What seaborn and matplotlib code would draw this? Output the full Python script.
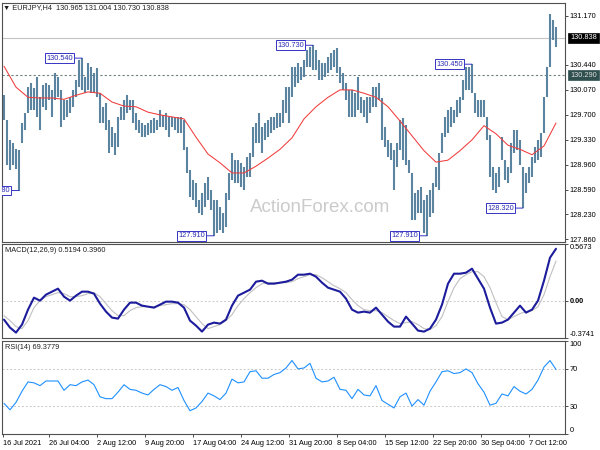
import numpy as np
import matplotlib
matplotlib.use("Agg")
import matplotlib.pyplot as plt
import matplotlib.transforms as mtransforms
import seaborn as sns

# EURJPY H4 bars (every second bar), high / low
bar_high = [129.99, 129.62, 129.33, 129.28, 129.20, 129.18, 129.58, 129.73, 130.11, 130.17,
            130.10, 130.26, 129.96, 130.14, 130.17, 130.14, 130.07, 130.32, 130.26, 130.07,
            129.92, 129.92, 129.96, 130.07, 130.22, 130.51, 130.54, 130.26, 130.47, 130.41,
            130.32, 130.39, 130.02, 129.82, 129.88, 129.62, 129.52, 129.43, 129.67, 129.82,
            129.92, 129.99, 129.92, 129.92, 129.73, 129.62, 129.58, 129.55, 129.58, 129.62,
            129.65, 129.62, 129.77, 129.70, 129.73, 129.67, 129.67, 129.67, 129.67, 129.67,
            129.62, 129.22, 128.88, 128.74, 128.69, 128.44, 128.54, 128.69, 128.78, 128.59,
            128.44, 128.44, 128.34, 128.25, 128.54, 128.84, 129.14, 129.03, 129.03, 128.99,
            128.93, 129.08, 129.14, 129.52, 129.58, 129.73, 129.52, 129.58, 129.62, 129.67,
            129.67, 129.73, 129.73, 129.92, 130.11, 130.11, 130.41, 130.41, 130.47, 130.41,
            130.51, 130.66, 130.70, 130.73, 130.66, 130.51, 130.47, 130.47, 130.56, 130.62,
            130.66, 130.69, 130.41, 130.32, 130.17, 130.07, 130.07, 130.02, 130.26, 129.96,
            129.92, 129.96, 129.96, 130.11, 130.11, 130.17, 129.95, 129.52, 129.33, 129.28,
            129.18, 129.28, 129.62, 129.65, 129.55, 129.03, 128.84, 128.54, 128.59, 128.63,
            128.44, 128.51, 128.59, 128.69, 128.93, 129.14, 129.43, 129.67, 129.77, 129.82,
            129.77, 129.92, 129.96, 130.22, 130.41, 130.41, 130.45, 130.02, 129.92, 129.92,
            129.92, 129.67, 129.40, 128.93, 128.84, 128.93, 129.37, 129.03, 128.93, 129.28,
            129.48, 129.48, 129.33, 128.93, 128.84, 128.93, 129.08, 129.22, 129.33, 129.43,
            129.96, 130.41, 131.19, 131.10, 131.00]
bar_low = [129.62, 128.96, 128.88, 128.96, 128.90, 128.58, 129.28, 129.48, 129.73, 129.77,
           129.77, 129.67, 129.48, 129.82, 129.77, 129.92, 129.67, 129.92, 129.96, 129.52,
           129.62, 129.67, 129.73, 129.82, 129.96, 130.11, 130.07, 130.02, 130.07, 130.02,
           130.02, 129.96, 129.58, 129.58, 129.48, 129.14, 129.22, 129.11, 129.22, 129.62,
           129.62, 129.73, 129.77, 129.58, 129.48, 129.43, 129.37, 129.37, 129.40, 129.43,
           129.43, 129.48, 129.52, 129.52, 129.48, 129.37, 129.52, 129.48, 129.43, 129.43,
           129.18, 128.84, 128.48, 128.44, 128.34, 128.25, 128.22, 128.34, 128.44, 128.29,
           127.91, 127.95, 127.99, 127.95, 128.04, 128.44, 128.74, 128.69, 128.69, 128.63,
           128.59, 128.78, 128.78, 129.08, 129.28, 129.28, 129.14, 129.33, 129.37, 129.43,
           129.48, 129.51, 129.52, 129.58, 129.73, 129.58, 129.96, 130.11, 130.17, 130.22,
           130.26, 130.41, 130.41, 130.36, 130.36, 130.22, 130.22, 130.26, 130.32, 130.36,
           130.41, 130.32, 130.17, 130.07, 129.92, 129.67, 129.67, 129.67, 129.77, 129.73,
           129.67, 129.58, 129.73, 129.82, 129.82, 129.92, 129.33, 129.22, 129.08, 129.03,
           128.59, 128.93, 129.18, 129.03, 128.96, 128.84, 128.14, 128.14, 128.25, 128.25,
           127.95, 127.91, 128.19, 128.25, 128.63, 128.59, 129.14, 129.37, 129.43, 129.52,
           129.58, 129.67, 129.73, 129.92, 130.07, 130.07, 130.02, 129.73, 129.67, 129.67,
           129.67, 129.33, 128.78, 128.59, 128.54, 128.63, 129.03, 128.74, 128.69, 128.84,
           129.14, 129.18, 128.96, 128.32, 128.54, 128.69, 128.78, 128.99, 129.03, 129.08,
           129.43, 129.96, 130.41, 130.81, 130.70]

# moving average, read every fourth plotted bar
ma_values = [130.42, 130.11, 129.96, 129.95, 129.95, 129.93, 129.99, 130.04, 130.02, 129.89,
             129.83, 129.82, 129.74, 129.70, 129.67, 129.64, 129.37, 129.12, 128.99, 128.84,
             128.84, 128.94, 129.06, 129.19, 129.36, 129.64, 129.82, 129.96, 130.07, 130.07,
             130.02, 129.96, 129.82, 129.61, 129.39, 129.17, 129.00, 129.03, 129.17, 129.33,
             129.54, 129.42, 129.25, 129.19, 129.11, 129.24, 129.58]

# MACD(12,26,9) main and signal, RSI(14); read every second plotted bar
macd_main = [-0.19, -0.27, -0.32, -0.24, -0.09, 0.03, 0.00, 0.06, 0.09, 0.12,
             0.04, 0.00, 0.05, 0.09, 0.09, 0.07, -0.03, -0.11, -0.17, -0.18,
             -0.09, -0.02, -0.02, -0.05, -0.06, -0.07, -0.04, -0.01, -0.01, -0.02,
             -0.07, -0.20, -0.25, -0.31, -0.24, -0.22, -0.23, -0.19, -0.05, 0.05,
             0.08, 0.11, 0.19, 0.20, 0.17, 0.17, 0.18, 0.19, 0.21, 0.26,
             0.26, 0.27, 0.24, 0.18, 0.13, 0.11, 0.09, 0.02, -0.09, -0.12,
             -0.11, -0.12, -0.07, -0.14, -0.21, -0.26, -0.26, -0.16, -0.23, -0.30,
             -0.31, -0.28, -0.19, -0.04, 0.17, 0.27, 0.27, 0.28, 0.32, 0.22,
             0.12, -0.07, -0.23, -0.22, -0.19, -0.12, -0.05, -0.12, -0.09, 0.00,
             0.20, 0.43, 0.5194]
macd_signal = [-0.15, -0.20, -0.26, -0.28, -0.20, -0.07, 0.00, 0.04, 0.06, 0.08,
               0.07, 0.04, 0.04, 0.05, 0.07, 0.08, 0.04, -0.03, -0.10, -0.15,
               -0.15, -0.10, -0.07, -0.06, -0.06, -0.06, -0.05, -0.04, -0.03, -0.03,
               -0.04, -0.09, -0.16, -0.23, -0.28, -0.26, -0.24, -0.20, -0.14, -0.05,
               0.02, 0.08, 0.13, 0.17, 0.18, 0.18, 0.18, 0.18, 0.19, 0.22,
               0.24, 0.26, 0.26, 0.23, 0.19, 0.15, 0.12, 0.08, 0.01, -0.05,
               -0.09, -0.10, -0.10, -0.12, -0.16, -0.20, -0.23, -0.22, -0.21, -0.24,
               -0.28, -0.29, -0.25, -0.16, -0.01, 0.13, 0.22, 0.26, 0.29, 0.29,
               0.24, 0.13, -0.02, -0.16, -0.19, -0.16, -0.13, -0.11, -0.10, -0.06,
               0.06, 0.24, 0.3960]
rsi_values = [33, 26, 34, 46, 56, 55, 52, 57, 57, 57,
              47, 53, 52, 56, 58, 53, 40, 38, 38, 45,
              53, 48, 47, 44, 42, 48, 53, 51, 47, 50,
              36, 25, 28, 35, 44, 41, 37, 44, 59, 55,
              56, 67, 68, 60, 60, 64, 66, 71, 79, 70,
              71, 76, 60, 56, 57, 61, 48, 47, 38, 48,
              42, 41, 52, 36, 32, 28, 40, 44, 30, 37,
              31, 46, 56, 67, 68, 65, 66, 70, 66, 54,
              45, 31, 33, 43, 41, 51, 46, 43, 48, 58,
              72, 79, 69.38]

# swing high / low labels
swing_bars = [5, 26, 70, 103, 141, 156, 173]
swing_prices = [128.58, 130.54, 127.91, 130.73, 127.91, 130.45, 128.32]

price_ticks = [131.17, 130.44, 130.07, 129.70, 129.33, 128.96, 128.59, 128.23, 127.86]
last_price = 130.838
level_price = 130.29
macd_ticks = [0.5673, 0.0, -0.3741]
rsi_ticks = [100, 70, 30, 0]
time_ticks = [-0.5, 15, 31, 47, 63, 79, 95, 111, 127, 143, 159, 175]
time_labels = ["16 Jul 2021", "26 Jul 04:00", "2 Aug 12:00", "9 Aug 20:00", "17 Aug 04:00",
               "24 Aug 12:00", "31 Aug 20:00", "8 Sep 04:00", "15 Sep 12:00", "22 Sep 20:00",
               "30 Sep 04:00", "7 Oct 12:00"]

sns.set_theme(style="white")
plt.rcParams['font.family'] = ['Liberation Sans', 'DejaVu Sans']
FS = 5.3

bars = np.arange(len(bar_high))
ind_bars = bars[::2]

fig = plt.figure(figsize=(6, 4.5), dpi=100)
fig.patch.set_facecolor('white')
W, H = 600.0, 450.0
ax_p = fig.add_axes([2 / W, 1 - 242 / H, 563 / W, 239 / H])
ax_m = fig.add_axes([2 / W, 1 - 338 / H, 563 / W, 94 / H])
ax_r = fig.add_axes([2 / W, 1 - 434 / H, 563 / W, 93 / H])

for ax in (ax_p, ax_m, ax_r):
    ax.set_xlim(-0.667, 187)
    ax.set_facecolor('white')
    for sp in ax.spines.values():
        sp.set_visible(True)
        sp.set_color('#505050')
        sp.set_linewidth(0.8)
    ax.yaxis.tick_right()
    ax.tick_params(axis='y', right=True, left=False, labelright=True, labelleft=False,
                   direction='out', length=2.5, width=0.6, pad=1, labelsize=FS,
                   colors='#303030', labelcolor='black')
    ax.grid(False)

# price panel
ax_p.axhline(last_price, color='#c4c4c4', lw=0.8, zorder=0)
ax_p.axhline(level_price, color='#6f8080', lw=0.8, ls=(0, (2, 2)), zorder=0)
ax_p.text(0.565, 0.146, "ActionForex.com", transform=ax_p.transAxes, ha='center', va='center',
          fontsize=13.5, color='#cbcbcb', zorder=0)
ax_p.vlines(bars, bar_low, bar_high, color='#5a84a0', lw=1.5, zorder=2)
sns.lineplot(x=bars[::4], y=ma_values, ax=ax_p, color='#f03c3c', lw=0.75, zorder=3)
ax_p.set_ylim(127.818, 131.356)
ax_p.set_yticks(price_ticks)
ax_p.set_yticklabels([f"{p:.3f}" for p in price_ticks])
ax_p.set_xticks([])

yx = mtransforms.blended_transform_factory(ax_p.transAxes, ax_p.transData)
ax_p.text(1.009, last_price, f"{last_price:.3f}", transform=yx, ha='left', va='center',
          fontsize=FS, color='white',
          bbox=dict(boxstyle='square,pad=0.25', fc='black', ec='black', lw=0.5))
ax_p.text(1.009, level_price, f"{level_price:.3f}", transform=yx, ha='left', va='center',
          fontsize=FS, color='#dddddd',
          bbox=dict(boxstyle='square,pad=0.25', fc='#2f4f4f', ec='#2f4f4f', lw=0.5))

for b, p in zip(swing_bars, swing_prices):
    ann = ax_p.annotate(f"{p:.3f}", xy=(b, p), xytext=(-6.5, 0), textcoords='offset points',
                        ha='right', va='center', fontsize=FS, color='#2a2ab4',
                        bbox=dict(boxstyle='square,pad=0.2', fc='white', ec='#3434c4', lw=0.7),
                        arrowprops=dict(arrowstyle='-', color='#3434c4', lw=0.7,
                                        shrinkA=0, shrinkB=0),
                        annotation_clip=False, zorder=5)
    ann.set_clip_box(ax_p.bbox)
    ann.set_clip_on(True)

ax_p.text(0.002, 0.983, "\u25bc EURJPY,H4  130.965 131.004 130.730 130.838",
          transform=ax_p.transAxes, ha='left', va='center', fontsize=FS, color='#202020')

# MACD panel
ax_m.axhline(0, color='#c8c8c8', lw=0.7, ls=(0, (2, 2)), zorder=0)
sns.lineplot(x=ind_bars, y=macd_signal, ax=ax_m, color='#c0c0c0', lw=0.8)
sns.lineplot(x=ind_bars, y=macd_main, ax=ax_m, color='#1c1c9c', lw=1.5)
ax_m.set_ylim(macd_ticks[-1], macd_ticks[0])
ax_m.set_yticks(macd_ticks)
ax_m.set_yticklabels(["0.5673", "0.00", "-0.3741"])
labs = ax_m.get_yticklabels()
labs[0].set_va('top')
labs[1].set_fontweight('bold')
labs[2].set_va('bottom')
ax_m.set_xticks([])
ax_m.text(0.005, 0.935, "MACD(12,26,9) 0.5194 0.3960", transform=ax_m.transAxes,
          ha='left', va='center', fontsize=FS, color='#202020')

# RSI panel
for lvl in (70, 30):
    ax_r.axhline(lvl, color='#c8c8c8', lw=0.7, ls=(0, (2, 2)), zorder=0)
sns.lineplot(x=ind_bars, y=rsi_values, ax=ax_r, color='#1e90ff', lw=0.8)
ax_r.set_ylim(0, 100)
ax_r.set_yticks(rsi_ticks)
ax_r.set_yticklabels([str(v) for v in rsi_ticks])
labs = ax_r.get_yticklabels()
labs[0].set_va('top')
labs[-1].set_va('bottom')
ax_r.set_xticks(time_ticks)
ax_r.set_xticklabels(time_labels)
ax_r.tick_params(axis='x', bottom=True, direction='out', length=2.5, width=0.6, pad=1.5,
                 labelsize=FS, colors='#303030', labelcolor='black')
for lab in ax_r.get_xticklabels():
    lab.set_horizontalalignment('left')
ax_r.text(0.005, 0.935, "RSI(14) 69.3779", transform=ax_r.transAxes,
          ha='left', va='center', fontsize=FS, color='#202020')

for ax in (ax_p, ax_m, ax_r):
    ax.set_xlabel('')
    ax.set_ylabel('')

fig.savefig('out.png', dpi=100, facecolor='white')
